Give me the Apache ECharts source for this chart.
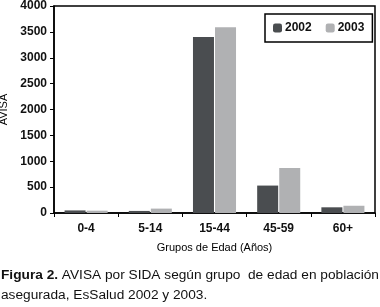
<!DOCTYPE html>
<html>
<head>
<meta charset="utf-8">
<script src="https://cdn.jsdelivr.net/npm/echarts@6/dist/echarts.min.js"></script>
<style>
  html, body { margin: 0; padding: 0; background: #fff; }
  #chart { width: 380px; height: 307px; }
</style>
</head>
<body>
<div id="chart"></div>
<script>
// grupos de edad
const categories = ['0-4', '5-14', '15-44', '45-59', '60+'];
const values2002 = [50, 40, 3400, 530, 110];
const values2003 = [45, 85, 3590, 870, 140];
const yTicks = [0, 500, 1000, 1500, 2000, 2500, 3000, 3500, 4000];

const chart = echarts.init(document.getElementById('chart'));
const font = 'Liberation Sans, Arial, sans-serif';

const option = {
  animation: false,
  grid: {
    left: 54, right: 5, top: 6, bottom: 94,
    outerBoundsMode: 'none',
    containLabel: false,
    show: true, borderColor: '#000', borderWidth: 1.5
  },
  legend: {
    data: ['2002', '2003'],
    left: 265, top: 14,
    orient: 'horizontal',
    itemWidth: 9, itemHeight: 9, itemGap: 14,
    padding: [8, 8, 8, 8],
    borderColor: '#000', borderWidth: 1.5,
    textStyle: { fontFamily: font, fontSize: 12, fontWeight: 'bold', color: '#111', padding: [0, 0, 0, -2] }
  },
  xAxis: {
    type: 'category',
    data: categories,
    name: 'Grupos de Edad (Años)',
    nameLocation: 'middle',
    nameGap: 29,
    nameTextStyle: { fontFamily: font, fontSize: 11, color: '#000' },
    axisLine: { lineStyle: { color: '#000', width: 1.5 } },
    axisTick: { show: true, length: 4, lineStyle: { color: '#000' } },
    axisLabel: { fontFamily: font, fontSize: 12, fontWeight: 'bold', color: '#111', margin: 10 }
  },
  yAxis: {
    type: 'value',
    min: yTicks[0], max: yTicks[yTicks.length - 1], interval: 500,
    name: 'AVISA',
    nameLocation: 'middle',
    nameGap: 42,
    nameTextStyle: { fontFamily: font, fontSize: 11, color: '#000' },
    axisLine: { show: true, lineStyle: { color: '#000', width: 1.5 } },
    axisTick: { show: true, length: 4, lineStyle: { color: '#000' } },
    axisLabel: { fontFamily: font, fontSize: 12, fontWeight: 'bold', color: '#111', margin: 7, formatter: v => String(v) },
    splitLine: { show: false }
  },
  series: [
    {
      name: '2002', type: 'bar', data: values2002,
      barWidth: 21, barGap: '5%',
      itemStyle: { color: '#4a4d50' }
    },
    {
      name: '2003', type: 'bar', data: values2003,
      barWidth: 21,
      itemStyle: { color: '#b0b1b3' }
    }
  ],
  graphic: [
    {
      type: 'text', left: 1, top: 265,
      style: {
        text: '{b|Figura 2.} AVISA por SIDA según grupo  de edad en población\nasegurada, EsSalud 2002 y 2003.',
        fontFamily: font, fontSize: 13.7, lineHeight: 20, fill: '#111',
        rich: {
          b: { fontFamily: font, fontSize: 13.7, fontWeight: 'bold', fill: '#111' }
        }
      }
    }
  ]
};

chart.setOption(option);
</script>
</body>
</html>
